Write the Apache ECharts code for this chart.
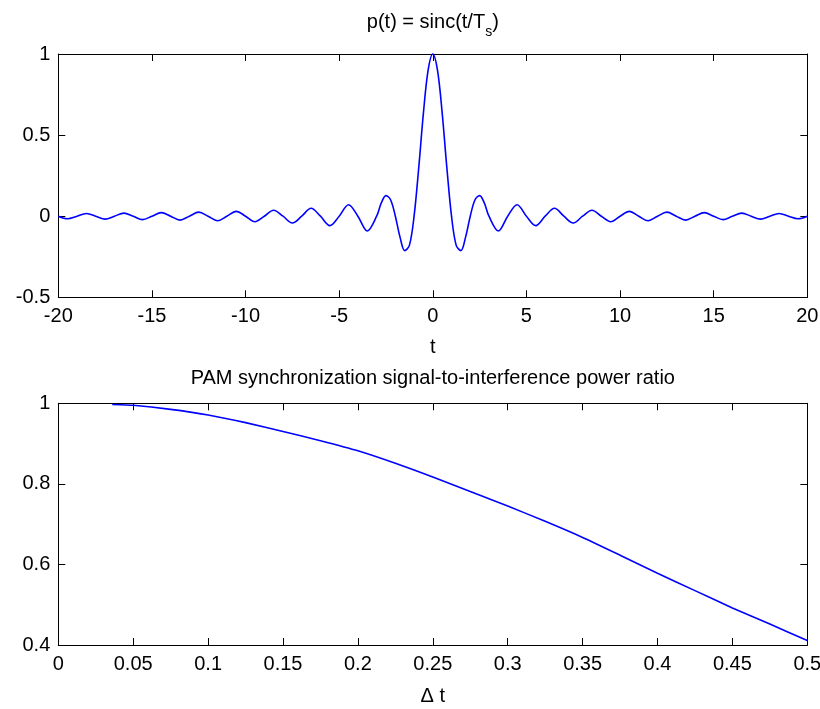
<!DOCTYPE html>
<html>
<head>
<meta charset="utf-8">
<script src="https://cdn.jsdelivr.net/npm/echarts@6/dist/echarts.min.js"></script>
<style>
html,body{margin:0;padding:0;background:#fff;}
#chart{width:820px;height:709px;}
</style>
</head>
<body>
<div id="chart"></div>
<script>
// ---- top panel: p(t) = sinc(t/Ts) ----
const tValues = [
  -20, -19.5, -19, -18.5, -18, -17.5, -17, -16.5, -16, -15.5, -15, -14.5, -14, -13.5, -13, -12.5,
  -12, -11.5, -11, -10.5, -10, -9.5, -9, -8.5, -8, -7.5, -7, -6.5, -6, -5.5, -5, -4.5, -4, -3.5, -3,
  -2.75, -2.5, -2.25, -2, -1.75, -1.5, -1.25, -1, -0.75, -0.5, -0.25, 0,
  0.25, 0.5, 0.75, 1, 1.25, 1.5, 1.75, 2, 2.25, 2.5, 2.75,
  3, 3.5, 4, 4.5, 5, 5.5, 6, 6.5, 7, 7.5, 8, 8.5, 9, 9.5, 10, 10.5, 11, 11.5, 12, 12.5,
  13, 13.5, 14, 14.5, 15, 15.5, 16, 16.5, 17, 17.5, 18, 18.5, 19, 19.5, 20
];
const pValues = [
  0, -0.016, 0, 0.017, 0, -0.018, 0, 0.019, 0, -0.021, 0, 0.022, 0, -0.024, 0, 0.025,
  0, -0.028, 0, 0.030, 0, -0.034, 0, 0.037, 0, -0.042, 0, 0.049, 0, -0.058, 0, 0.071, 0, -0.091, 0,
  0.082, 0.127, 0.100, 0, -0.129, -0.212, -0.180, 0, 0.300, 0.637, 0.900, 1,
  0.900, 0.637, 0.300, 0, -0.180, -0.212, -0.129, 0, 0.100, 0.127, 0.082,
  0, -0.091, 0, 0.071, 0, -0.058, 0, 0.049, 0, -0.042, 0, 0.037, 0, -0.034, 0, 0.030, 0, -0.028, 0, 0.025,
  0, -0.024, 0, 0.022, 0, -0.021, 0, 0.019, 0, -0.018, 0, 0.017, 0, -0.016, 0
];

// ---- bottom panel: PAM synchronization SIR ----
const dtValues = [0.036, 0.05, 0.075, 0.1, 0.125, 0.15, 0.175, 0.2, 0.225, 0.25, 0.275, 0.3,
  0.325, 0.35, 0.375, 0.4, 0.425, 0.45, 0.475, 0.5];
const sirValues = [0.997, 0.995, 0.985, 0.971, 0.952, 0.930, 0.907, 0.882, 0.851, 0.817, 0.781, 0.745,
  0.707, 0.667, 0.623, 0.578, 0.535, 0.492, 0.452, 0.411];

// axis ranges / tick steps
const topX = {min: -20, max: 20, interval: 5};
const topY = {min: -0.5, max: 1, interval: 0.5};
const botX = {min: 0, max: 0.5, interval: 0.05};
const botY = {min: 0.4, max: 1, interval: 0.2};

const FONT = '"Liberation Sans", Arial, Helvetica, sans-serif';
const FS = 20;
const lineStyle = {color: '#000', width: 1};

function mainAxis(range, grid, pos, extra) {
  const isX = pos === 'bottom';
  return Object.assign({
    type: 'value', gridIndex: grid, position: pos,
    min: range.min, max: range.max, interval: range.interval,
    axisLine: {show: true, onZero: false, lineStyle: lineStyle},
    axisTick: {show: true, inside: true, length: 7, lineStyle: lineStyle},
    axisLabel: {show: true, color: '#000', fontSize: FS, fontFamily: FONT, margin: isX ? 9 : 8,
      hideOverlap: false, showMinLabel: true, showMaxLabel: true},
    splitLine: {show: false}
  }, extra || {});
}
function mirrorAxis(range, grid, pos) {
  return {
    type: 'value', gridIndex: grid, position: pos,
    min: range.min, max: range.max, interval: range.interval,
    axisLine: {show: true, onZero: false, lineStyle: lineStyle},
    axisTick: {show: true, inside: true, length: 7, lineStyle: lineStyle},
    axisLabel: {show: false},
    splitLine: {show: false}
  };
}

const chart = echarts.init(document.getElementById('chart'), null, {renderer: 'canvas'});
const plotCenter = 58.3 + (807.3 - 58.3) / 2;

chart.setOption({
  backgroundColor: '#fff',
  animation: false,
  title: [
    {
      text: '{a|p(t) = sinc(t/T}{s|s}{a|)}',
      left: plotCenter, top: 12, textAlign: 'center', padding: 0,
      textStyle: {
        fontWeight: 'normal',
        rich: {
          a: {fontSize: FS, fontFamily: FONT, fontWeight: 'normal', color: '#000', verticalAlign: 'top', lineHeight: 24},
          s: {fontSize: 14, fontFamily: FONT, fontWeight: 'normal', color: '#000', verticalAlign: 'top', lineHeight: 14, padding: [13, 0, 0, 0]}
        }
      }
    },
    {
      text: 'PAM synchronization signal-to-interference power ratio',
      left: plotCenter, top: 368, textAlign: 'center', padding: 0,
      textStyle: {fontSize: FS, fontFamily: FONT, color: '#000', fontWeight: 'normal'}
    }
  ],
  grid: [
    {left: 58.3, right: 820 - 807.3, top: 54, height: 243.3, outerBoundsMode: 'none', containLabel: false},
    {left: 58.3, right: 820 - 807.3, top: 403.3, height: 241.7, outerBoundsMode: 'none', containLabel: false}
  ],
  xAxis: [
    mainAxis(topX, 0, 'bottom', {name: 't', nameLocation: 'middle', nameGap: 40,
      nameTextStyle: {fontSize: FS, fontFamily: FONT, color: '#000'}}),
    mirrorAxis(topX, 0, 'top'),
    mainAxis(botX, 1, 'bottom', {name: 'Δ t', nameLocation: 'middle', nameGap: 41,
      nameTextStyle: {fontSize: FS, fontFamily: FONT, color: '#000'}}),
    mirrorAxis(botX, 1, 'top')
  ],
  yAxis: [
    mainAxis(topY, 0, 'left'),
    mirrorAxis(topY, 0, 'right'),
    mainAxis(botY, 1, 'left'),
    mirrorAxis(botY, 1, 'right')
  ],
  series: [
    {
      type: 'line', xAxisIndex: 0, yAxisIndex: 0,
      data: tValues.map((t, i) => [t, pValues[i]]),
      smooth: 0.35, showSymbol: false, clip: false,
      lineStyle: {color: '#0000ff', width: 1.6}
    },
    {
      type: 'line', xAxisIndex: 2, yAxisIndex: 2,
      data: dtValues.map((d, i) => [d, sirValues[i]]),
      smooth: 0.2, showSymbol: false, clip: false,
      lineStyle: {color: '#0000ff', width: 1.6}
    }
  ]
});
</script>
</body>
</html>
